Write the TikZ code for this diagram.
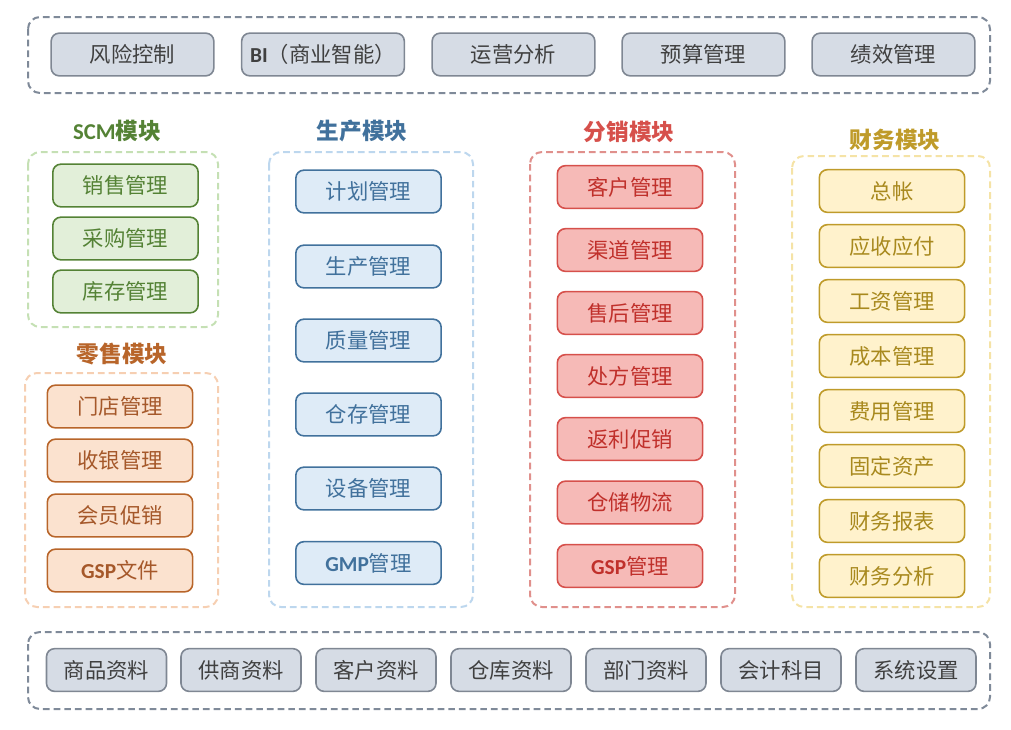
\documentclass[tikz,border=0pt]{standalone}
\usepackage{fontspec}
\setmainfont{Noto Sans CJK SC}
\newfontfamily\lat{Carlito}
\usepackage{tikz}

\definecolor{grayfill}{HTML}{D6DCE5}
\definecolor{grayline}{HTML}{7F8793}
\definecolor{graytext}{HTML}{404040}
\definecolor{graygrp}{HTML}{7F8A99}
\definecolor{scmfill}{HTML}{E2EFD9}
\definecolor{scmline}{HTML}{548235}
\definecolor{scmgrp}{HTML}{C5E0B4}
\definecolor{prodfill}{HTML}{DEEBF7}
\definecolor{prodline}{HTML}{41719C}
\definecolor{prodgrp}{HTML}{BDD7EE}
\definecolor{distfill}{HTML}{F6BAB7}
\definecolor{distline}{HTML}{D6504B}
\definecolor{disttext}{HTML}{C0302B}
\definecolor{distgrp}{HTML}{E0908C}
\definecolor{retfill}{HTML}{FBE2CF}
\definecolor{retline}{HTML}{B8652A}
\definecolor{rettext}{HTML}{A5582A}
\definecolor{retgrp}{HTML}{F6CFB2}
\definecolor{finfill}{HTML}{FFF2CC}
\definecolor{finline}{HTML}{BF9B2A}
\definecolor{fintext}{HTML}{A8891E}
\definecolor{fingrp}{HTML}{F5E3A6}

\begin{document}
\begin{tikzpicture}[x=0.75pt,y=-0.75pt,
  box/.style={rounded corners=6pt,line width=1.2pt,inner sep=0pt,
    minimum width=109pt,minimum height=32pt,font=\fontsize{16}{19}\selectfont},
  topbox/.style={box,minimum width=122pt,fill=grayfill,draw=grayline,text=graytext},
  basebox/.style={box,minimum width=90pt,fill=grayfill,draw=grayline,text=graytext},
  scmbox/.style={box,fill=scmfill,draw=scmline,text=scmline},
  prodbox/.style={box,fill=prodfill,draw=prodline,text=prodline},
  distbox/.style={box,fill=distfill,draw=distline,text=disttext},
  retbox/.style={box,fill=retfill,draw=retline,text=rettext},
  finbox/.style={box,fill=finfill,draw=finline,text=fintext},
  grp/.style={rounded corners=9pt,line width=1.5pt,dash pattern=on 5pt off 3pt},
  title/.style={font=\fontsize{17}{20}\selectfont\bfseries}]
\useasboundingbox (0,0) rectangle (1011,729);

% top layer
\draw[grp,draw=graygrp] (28,17) rectangle (990,93);
\node[topbox] (risk) at (132.5,54.5) {风险控制};
\node[topbox] (bi)   at (323,54.5)   {{\lat\bfseries BI}（商业智能）};
\node[topbox] (ops)  at (513.5,54.5) {运营分析};
\node[topbox] (bud)  at (703.5,54.5) {预算管理};
\node[topbox] (perf) at (893.5,54.5) {绩效管理};

% SCM
\node[title,text=scmline] (scmt) at (117,131) {{\lat\bfseries SCM}模块};
\draw[grp,draw=scmgrp] (28,152) rectangle (218,327);
\node[scmbox] (sale) at (125.5,185.5) {销售管理};
\node[scmbox] (buy)  at (125.5,238.5) {采购管理};
\node[scmbox] (inv)  at (125.5,291.5) {库存管理};

% retail
\node[title,text=retline] (rett) at (122,354) {零售模块};
\draw[grp,draw=retgrp] (25,373) rectangle (218,607);
\node[retbox] (shop) at (120,406.5) {门店管理};
\node[retbox] (cash) at (120,460.5) {收银管理};
\node[retbox] (vip)  at (120,515.5) {会员促销};
\node[retbox] (gspf) at (120,570.5) {{\lat\bfseries GSP}文件};

% production
\node[title,text=prodline] (prodt) at (362,131) {生产模块};
\draw[grp,draw=prodgrp] (269,152) rectangle (473,607);
\node[prodbox] (plan) at (368.5,191.5) {计划管理};
\node[prodbox] (mfg)  at (368.5,266.5) {生产管理};
\node[prodbox] (qual) at (368.5,340.5) {质量管理};
\node[prodbox] (ware) at (368.5,414.5) {仓存管理};
\node[prodbox] (equ)  at (368.5,488.5) {设备管理};
\node[prodbox] (gmp)  at (368.5,563)   {{\lat\bfseries GMP}管理};

% distribution
\node[title,text=distline] (distt) at (629,132) {分销模块};
\draw[grp,draw=distgrp] (530,152) rectangle (735,607);
\node[distbox] (cust)  at (630,187)   {客户管理};
\node[distbox] (chan)  at (630,250)   {渠道管理};
\node[distbox] (after) at (630,313)   {售后管理};
\node[distbox] (presc) at (630,376)   {处方管理};
\node[distbox] (rebat) at (630,439)   {返利促销};
\node[distbox] (logi)  at (630,502.5) {仓储物流};
\node[distbox] (gspm)  at (630,566)   {{\lat\bfseries GSP}管理};

% finance
\node[title,text=finline] (fint) at (895,140) {财务模块};
\draw[grp,draw=fingrp] (792,156) rectangle (990,607);
\node[finbox] (gl)    at (892,191)   {总帐};
\node[finbox] (arap)  at (892,246)   {应收应付};
\node[finbox] (pay)   at (892,301)   {工资管理};
\node[finbox] (cost)  at (892,356)   {成本管理};
\node[finbox] (exp)   at (892,411)   {费用管理};
\node[finbox] (asset) at (892,466)   {固定资产};
\node[finbox] (rep)   at (892,521)   {财务报表};
\node[finbox] (ana)   at (892,576)   {财务分析};

% base data
\draw[grp,draw=graygrp] (28,632) rectangle (990,709);
\node[basebox] (goods) at (106.5,670) {商品资料};
\node[basebox] (supp)  at (241,670)   {供商资料};
\node[basebox] (custd) at (376,670)   {客户资料};
\node[basebox] (wared) at (511,670)   {仓库资料};
\node[basebox] (dept)  at (646,670)   {部门资料};
\node[basebox] (acct)  at (781,670)   {会计科目};
\node[basebox] (sys)   at (916,670)   {系统设置};
\end{tikzpicture}
\end{document}
